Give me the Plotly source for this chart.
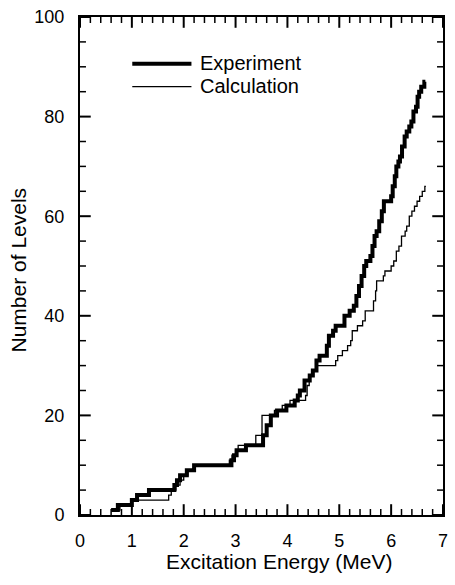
import plotly.graph_objects as go

# Experiment: excitation energy (MeV) at each step and cumulative number of levels
exp_energy = [0.60, 0.73, 1.00, 1.10, 1.33, 1.82, 1.87, 1.93, 2.06, 2.20,
              2.92, 2.97, 3.02, 3.20, 3.53, 3.60, 3.68, 3.80, 3.98, 4.14,
              4.20, 4.24, 4.33, 4.43, 4.49, 4.56, 4.62, 4.76, 4.80, 4.88,
              4.93, 5.10, 5.20, 5.28, 5.33, 5.38, 5.43, 5.48, 5.52, 5.60,
              5.64, 5.68, 5.72, 5.77, 5.82, 5.86, 6.00, 6.03, 6.07, 6.10,
              6.14, 6.17, 6.21, 6.26, 6.30, 6.35, 6.39, 6.43, 6.48, 6.51,
              6.54, 6.58, 6.64, 6.66]
exp_levels = [1, 2, 3, 4, 5, 6, 7, 8, 9, 10,
              11, 12, 13, 14, 16, 18, 20, 21, 22, 23,
              24, 25, 27, 28, 29, 31, 32, 34, 36, 37,
              38, 40, 41, 42, 44, 46, 48, 50, 51, 52,
              54, 56, 57, 59, 61, 63, 64, 66, 68, 70,
              71, 72, 74, 76, 77, 78, 79, 81, 82, 84,
              85, 86, 87, 87]

# Calculation
calc_energy = [0.60, 0.77, 1.00, 1.71, 1.76, 1.85, 1.93, 2.00, 2.08, 2.20,
               2.88, 2.93, 3.00, 3.05, 3.39, 3.51, 3.75, 3.90, 4.05, 4.35,
               4.38, 4.42, 4.50, 4.56, 4.93, 4.97, 5.06, 5.16, 5.22, 5.25,
               5.35, 5.45, 5.50, 5.66, 5.70, 5.72, 5.85, 5.88, 6.00, 6.05,
               6.10, 6.15, 6.20, 6.27, 6.30, 6.35, 6.40, 6.45, 6.50, 6.55,
               6.60, 6.65, 6.67]
calc_levels = [1, 2, 3, 4, 5, 6, 7, 8, 9, 10,
               11, 12, 13, 14, 16, 20, 21, 22, 23, 24,
               26, 28, 29, 30, 31, 32, 33, 34, 35, 37,
               38, 39, 41, 43, 45, 47, 48, 49, 50, 51,
               53, 54, 56, 57, 58, 60, 61, 62, 63, 64,
               65, 66, 66]

x_range = [0, 7]
y_range = [0, 100]
x_major, x_minor = 1, 0.2
y_major, y_minor = 20, 5
series_names = ["Experiment", "Calculation"]

FONT = "Liberation Sans, Arial, Helvetica, sans-serif"
W, H = 455, 585
ML, MR, MT, MB = 80, 7, 16, 70
PW, PH = W - ML - MR, H - MT - MB
MAJ_LEN, MIN_LEN = 9, 5

fig = go.Figure()
fig.add_trace(go.Scatter(x=calc_energy, y=calc_levels, mode="lines",
                         line=dict(shape="hv", color="black", width=1.3),
                         name=series_names[1], showlegend=False))
fig.add_trace(go.Scatter(x=exp_energy, y=exp_levels, mode="lines",
                         line=dict(shape="hv", color="black", width=4),
                         name=series_names[0], showlegend=False))

# Inside tick marks drawn as line-shaped markers sitting just inside the frame
xspan = x_range[1] - x_range[0]
yspan = y_range[1] - y_range[0]
for kind, length, width in (("major", MAJ_LEN, 2), ("minor", MIN_LEN, 1.5)):
    vx, vy, hx, hy = [], [], [], []
    for i in range(int(round(xspan / x_minor)) + 1):
        xv = x_range[0] + i * x_minor
        is_major = abs(xv / x_major - round(xv / x_major)) < 1e-6
        if is_major != (kind == "major"):
            continue
        off = length / 2 / PH * yspan
        vx += [xv, xv]
        vy += [y_range[0] + off, y_range[1] - off]
    for i in range(int(round(yspan / y_minor)) + 1):
        yv = y_range[0] + i * y_minor
        is_major = abs(yv / y_major - round(yv / y_major)) < 1e-6
        if is_major != (kind == "major"):
            continue
        off = length / 2 / PW * xspan
        hx += [x_range[0] + off, x_range[1] - off]
        hy += [yv, yv]
    fig.add_trace(go.Scatter(x=vx, y=vy, mode="markers", hoverinfo="skip", showlegend=False,
                             cliponaxis=False,
                             marker=dict(symbol="line-ns", size=length,
                                         line=dict(color="black", width=width))))
    fig.add_trace(go.Scatter(x=hx, y=hy, mode="markers", hoverinfo="skip", showlegend=False,
                             cliponaxis=False,
                             marker=dict(symbol="line-ew", size=length,
                                         line=dict(color="black", width=width))))

fig.update_layout(
    xaxis=dict(range=x_range, tickmode="linear", tick0=0, dtick=x_major,
               showline=True, linecolor="black", linewidth=2, mirror=True,
               ticks="", showgrid=False, zeroline=False, ticklabelstandoff=8,
               tickfont=dict(family=FONT, size=18, color="black")),
    yaxis=dict(range=y_range, tickmode="linear", tick0=0, dtick=y_major,
               showline=True, linecolor="black", linewidth=2, mirror=True,
               ticks="", showgrid=False, zeroline=False, ticklabelstandoff=10,
               tickfont=dict(family=FONT, size=18, color="black")),
)

# Legend (drawn manually)
fig.add_shape(type="line", xref="paper", yref="paper", x0=0.144, x1=0.307, y0=0.906, y1=0.906,
              line=dict(color="black", width=4))
fig.add_shape(type="line", xref="paper", yref="paper", x0=0.144, x1=0.307, y0=0.860, y1=0.860,
              line=dict(color="black", width=1.3))
fig.add_annotation(text=series_names[0], xref="paper", yref="paper", x=0.326, y=0.908,
                   xanchor="left", yanchor="middle", showarrow=False,
                   font=dict(family=FONT, size=20, color="black"))
fig.add_annotation(text=series_names[1], xref="paper", yref="paper", x=0.326, y=0.862,
                   xanchor="left", yanchor="middle", showarrow=False,
                   font=dict(family=FONT, size=20, color="black"))

# Axis titles
fig.add_annotation(text="Excitation Energy (MeV)", xref="paper", yref="paper", x=0.549, y=0,
                   yshift=-46, xanchor="center", yanchor="middle", showarrow=False,
                   font=dict(family=FONT, size=21, color="black"))
fig.add_annotation(text="Number of Levels", xref="paper", yref="paper", x=0, y=0.491,
                   xshift=-62, textangle=-90, xanchor="center", yanchor="middle", showarrow=False,
                   font=dict(family=FONT, size=21, color="black"))

fig.update_layout(width=W, height=H, margin=dict(l=ML, r=MR, t=MT, b=MB),
                  paper_bgcolor="white", plot_bgcolor="white", showlegend=False)

fig.write_html("out.html")
